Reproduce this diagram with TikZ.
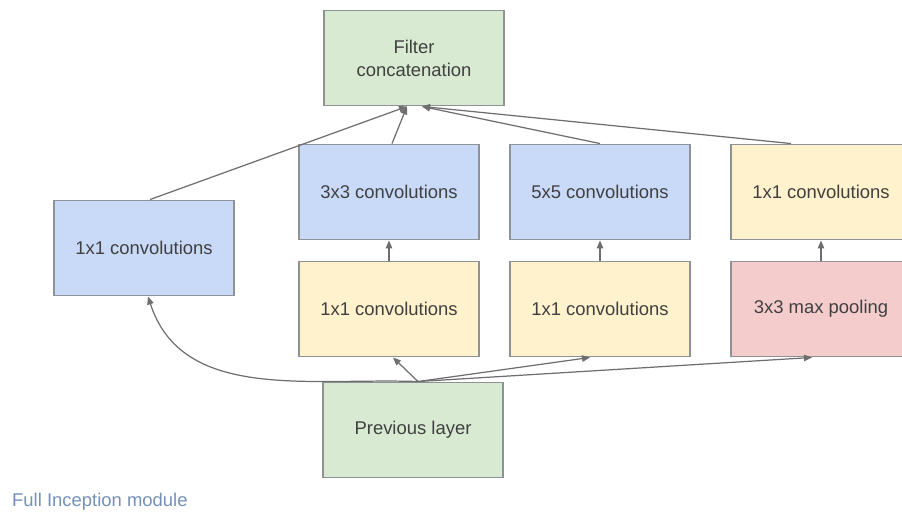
\documentclass[tikz,border=0pt]{standalone}
\usepackage{fontspec}
\setmainfont{Liberation Sans}
\usepackage{xcolor}
\usetikzlibrary{arrows.meta, positioning}

\definecolor{gblue}{HTML}{C9DAF8}
\definecolor{gyellow}{HTML}{FFF2CC}
\definecolor{gred}{HTML}{F4CCCC}
\definecolor{ggreen}{HTML}{D9EAD3}
\definecolor{edgegray}{HTML}{8E9196}
\definecolor{arrgray}{HTML}{6E6E6E}
\definecolor{capblue}{HTML}{7391B8}

\begin{document}
\begin{tikzpicture}[x=0.02cm, y=-0.02cm,
  % Node styles
  box/.style={draw=edgegray, line width=1.1pt, minimum width=3.6cm, minimum height=1.9cm,
              align=center, font=\fontsize{10.5}{13}\selectfont, text=black!75},
  % Arrow styles
  arr/.style={-{Triangle[length=1.6mm, width=1.3mm]}, line width=0.7pt, arrgray},
]
  \useasboundingbox (0,0) rectangle (902,521);

  % ── Top: concatenation ──
  \node[box, fill=ggreen] (concat) at (414,58) {Filter\\concatenation};

  % ── Row 2: upper convolutions ──
  \node[box, fill=gblue] (conv3) at (389,192) {3x3 convolutions};
  \node[box, fill=gblue] (conv5) at (600,192) {5x5 convolutions};
  \node[box, fill=gyellow] (convpool) at (821,192) {1x1 convolutions};
  \node[box, fill=gblue] (convleft) at (144,248) {1x1 convolutions};

  % ── Row 3: reductions and pooling ──
  \node[box, fill=gyellow] (red3) at (389,309) {1x1 convolutions};
  \node[box, fill=gyellow] (red5) at (600,309) {1x1 convolutions};
  \node[box, fill=gred] (pool) at (821,309) {3x3 max pooling};

  % ── Bottom: input ──
  \node[box, fill=ggreen] (prev) at (413,430) {Previous layer};

  % ── Caption ──
  \node[anchor=west, font=\fontsize{10.5}{13}\selectfont, text=capblue] (caption) at (6,502) {Full Inception module};

  % ── Arrows: into concatenation ──
  \draw[arr] ([xshift=0.12cm]convleft.north) -- ([xshift=-0.14cm]concat.south);
  \draw[arr] ([xshift=0.06cm]conv3.north) -- ([xshift=-0.14cm]concat.south);
  \draw[arr] (conv5.north) -- ([xshift=0.16cm]concat.south);
  \draw[arr] ([xshift=-0.6cm]convpool.north) -- ([xshift=0.16cm]concat.south);

  % ── Arrows: reductions upward ──
  \draw[arr] (red3) -- (conv3);
  \draw[arr] (red5) -- (conv5);
  \draw[arr] (pool) -- (convpool);

  % ── Arrows: from previous layer ──
  \draw[arr] ([xshift=0.1cm]prev.north) to[out=178, in=-72] ([xshift=0.08cm]convleft.south);
  \draw[arr] ([xshift=0.1cm]prev.north) -- ([xshift=0.08cm]red3.south);
  \draw[arr] ([xshift=0.1cm]prev.north) -- ([xshift=-0.2cm]red5.south);
  \draw[arr] ([xshift=0.1cm]prev.north) -- ([xshift=-0.18cm]pool.south);

\end{tikzpicture}
\end{document}
